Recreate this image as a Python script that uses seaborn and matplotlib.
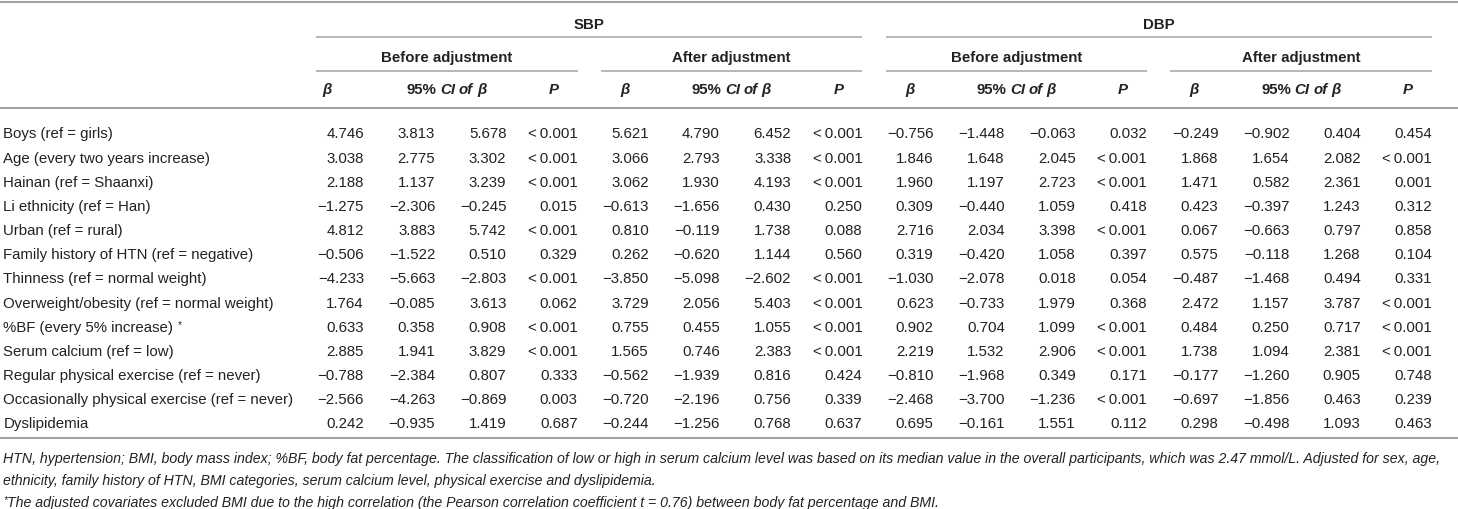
import matplotlib
matplotlib.use("Agg")
import matplotlib.pyplot as plt
import seaborn as sns
import pandas as pd
import numpy as np

# ---------------- data ----------------
row_labels = [
    "Boys (ref = girls)",
    "Age (every two years increase)",
    "Hainan (ref = Shaanxi)",
    "Li ethnicity (ref = Han)",
    "Urban (ref = rural)",
    "Family history of HTN (ref = negative)",
    "Thinness (ref = normal weight)",
    "Overweight/obesity (ref = normal weight)",
    "%BF (every 5% increase)",
    "Serum calcium (ref = low)",
    "Regular physical exercise (ref = never)",
    "Occasionally physical exercise (ref = never)",
    "Dyslipidemia",
]
label_star = [False] * 8 + [True] + [False] * 4

group_names = ["SBP", "DBP"]
subgroup_names = ["Before adjustment", "After adjustment"]

sbp_before_beta = [4.746, 3.038, 2.188, -1.275, 4.812, -0.506, -4.233, 1.764, 0.633, 2.885, -0.788, -2.566, 0.242]
sbp_before_lo = [3.813, 2.775, 1.137, -2.306, 3.883, -1.522, -5.663, -0.085, 0.358, 1.941, -2.384, -4.263, -0.935]
sbp_before_hi = [5.678, 3.302, 3.239, -0.245, 5.742, 0.510, -2.803, 3.613, 0.908, 3.829, 0.807, -0.869, 1.419]
sbp_before_p = ["<0.001", "<0.001", "<0.001", "0.015", "<0.001", "0.329", "<0.001", "0.062", "<0.001", "<0.001", "0.333", "0.003", "0.687"]

sbp_after_beta = [5.621, 3.066, 3.062, -0.613, 0.810, 0.262, -3.850, 3.729, 0.755, 1.565, -0.562, -0.720, -0.244]
sbp_after_lo = [4.790, 2.793, 1.930, -1.656, -0.119, -0.620, -5.098, 2.056, 0.455, 0.746, -1.939, -2.196, -1.256]
sbp_after_hi = [6.452, 3.338, 4.193, 0.430, 1.738, 1.144, -2.602, 5.403, 1.055, 2.383, 0.816, 0.756, 0.768]
sbp_after_p = ["<0.001", "<0.001", "<0.001", "0.250", "0.088", "0.560", "<0.001", "<0.001", "<0.001", "<0.001", "0.424", "0.339", "0.637"]

dbp_before_beta = [-0.756, 1.846, 1.960, 0.309, 2.716, 0.319, -1.030, 0.623, 0.902, 2.219, -0.810, -2.468, 0.695]
dbp_before_lo = [-1.448, 1.648, 1.197, -0.440, 2.034, -0.420, -2.078, -0.733, 0.704, 1.532, -1.968, -3.700, -0.161]
dbp_before_hi = [-0.063, 2.045, 2.723, 1.059, 3.398, 1.058, 0.018, 1.979, 1.099, 2.906, 0.349, -1.236, 1.551]
dbp_before_p = ["0.032", "<0.001", "<0.001", "0.418", "<0.001", "0.397", "0.054", "0.368", "<0.001", "<0.001", "0.171", "<0.001", "0.112"]

dbp_after_beta = [-0.249, 1.868, 1.471, 0.423, 0.067, 0.575, -0.487, 2.472, 0.484, 1.738, -0.177, -0.697, 0.298]
dbp_after_lo = [-0.902, 1.654, 0.582, -0.397, -0.663, -0.118, -1.468, 1.157, 0.250, 1.094, -1.260, -1.856, -0.498]
dbp_after_hi = [0.404, 2.082, 2.361, 1.243, 0.797, 1.268, 0.494, 3.787, 0.717, 2.381, 0.905, 0.463, 1.093]
dbp_after_p = ["0.454", "<0.001", "0.001", "0.312", "0.858", "0.104", "0.331", "<0.001", "<0.001", "<0.001", "0.748", "0.239", "0.463"]

footnote_1 = ("HTN, hypertension; BMI, body mass index; %BF, body fat percentage. The classification of low or high "
              "in serum calcium level was based on its median value in the overall participants, which was 2.47 mmol/L. "
              "Adjusted for sex, age,")
footnote_2 = "ethnicity, family history of HTN, BMI categories, serum calcium level, physical exercise and dyslipidemia."
footnote_3 = ("The adjusted covariates excluded BMI due to the high correlation (the Pearson correlation coefficient "
              "t = 0.76) between body fat percentage and BMI.")

columns = [
    sbp_before_beta, sbp_before_lo, sbp_before_hi, sbp_before_p,
    sbp_after_beta, sbp_after_lo, sbp_after_hi, sbp_after_p,
    dbp_before_beta, dbp_before_lo, dbp_before_hi, dbp_before_p,
    dbp_after_beta, dbp_after_lo, dbp_after_hi, dbp_after_p,
]


def fmt(v):
    if isinstance(v, str):
        return v.replace("<", "<\u2009")
    return f"{v:.3f}".replace("-", "\u2212")


cells = pd.DataFrame(
    [(r, c, fmt(col[r])) for c, col in enumerate(columns) for r in range(len(row_labels))],
    columns=["row", "col", "text"],
)

# ---------------- style ----------------
sns.set_theme(style="white")
plt.rcParams["font.family"] = ["Liberation Sans", "DejaVu Sans"]

W, H, DPI = 1458, 510, 100
fig = plt.figure(figsize=(W / DPI, H / DPI), dpi=DPI)
ax = fig.add_axes([0, 0, 1, 1])
ax.set_xlim(0, W)
ax.set_ylim(H, 0)
ax.axis("off")
renderer = fig.canvas.get_renderer()

TXT = "#222222"
RULE = "#a3a3a3"
FS = 10.8  # points (~15 px)

col_right0, col_step = 364.0, 71.2
row_y0, row_step = 133.0, 24.17
label_x = 3.5


def col_right(k):
    return col_right0 + col_step * k


def base(yc, fs=FS):
    return yc + 0.716 * fs / 72 * DPI / 2.0


def text_w(s, **kw):
    t = ax.text(0, 0, s, **kw)
    w = t.get_window_extent(renderer).width
    t.remove()
    return w


def runs(x, yc, parts, ha="center", fs=FS, gap_scale=1.0):
    """parts: list of (text, kwargs, dy, gap_before)"""
    widths = []
    for s, kw, dy, gap in parts:
        kk = dict(kw)
        kk.setdefault("fontsize", fs)
        widths.append(text_w(s, **kk))
    sp = (fs / 72 * DPI) * 0.278 * gap_scale
    total = sum(widths) + sum(sp for p in parts if p[3])
    cx = x - total / 2 if ha == "center" else x
    for (s, kw, dy, gap), w in zip(parts, widths):
        if gap:
            cx += sp
        kk = dict(kw)
        kk.setdefault("fontsize", fs)
        ax.text(cx, base(yc, fs) + dy, s, ha="left", va="baseline", color=TXT, **kk)
        cx += w


# ---------------- rules ----------------
ax.hlines([3, 109, 439], 0, W, color=RULE, lw=1.5)
for g in range(2):
    x0 = col_right(8 * g) - 48
    x1 = col_right(8 * g + 7)
    ax.hlines(38, x0, x1, color=RULE, lw=1.1)
    ax.text((x0 + x1) / 2, base(24), group_names[g], ha="center", va="baseline",
            fontsize=FS, fontweight="bold", color=TXT)
    for s in range(2):
        k0 = 8 * g + 4 * s
        sx0 = col_right(k0) - 48
        sx1 = col_right(k0 + 3)
        ax.hlines(72, sx0, sx1, color=RULE, lw=1.1)
        ax.text((sx0 + sx1) / 2, base(57), subgroup_names[s], ha="center", va="baseline",
                fontsize=FS, fontweight="bold", color=TXT)
        # column headers
        bx = col_right(k0) - (37 if k0 == 0 else 24)
        ax.text(bx, base(89), "\u03b2", ha="center", va="baseline", fontsize=FS,
                fontweight="bold", fontstyle="italic", color=TXT)
        runs(col_right(k0 + 2) - 60, 89, [
            ("95%", dict(fontweight="bold"), 0, False),
            ("CI", dict(fontweight="bold", fontstyle="italic"), 0, True),
            ("of", dict(fontweight="bold", fontstyle="italic"), 0, True),
            ("\u03b2", dict(fontweight="bold", fontstyle="italic"), 0, True),
        ], gap_scale=0.9)
        ax.text(col_right(k0 + 3) - 24, base(89), "P", ha="center", va="baseline", fontsize=FS,
                fontweight="bold", fontstyle="italic", color=TXT)

# ---------------- row labels ----------------
for r, lab in enumerate(row_labels):
    yc = row_y0 + row_step * r
    if label_star[r]:
        runs(label_x, yc, [
            (lab, dict(), 0, False),
            ("*", dict(fontsize=FS * 0.7), -4, True),
        ], ha="left")
    else:
        ax.text(label_x, base(yc), lab, ha="left", va="baseline", fontsize=FS, color=TXT)

# ---------------- cells ----------------
for row in cells.itertuples():
    ax.text(col_right(row.col), base(row_y0 + row_step * row.row), row.text,
            ha="right", va="baseline", fontsize=FS, color=TXT)

# ---------------- footnotes ----------------
fs0 = 10.0
w0 = text_w(footnote_1, fontsize=fs0, fontstyle="italic")
ffs = fs0 * 1447.0 / w0
ax.text(3, base(458, ffs), footnote_1, ha="left", va="baseline", fontsize=ffs, fontstyle="italic", color=TXT)
ax.text(3, base(480, ffs), footnote_2, ha="left", va="baseline", fontsize=ffs, fontstyle="italic", color=TXT)
star_w = text_w("*", fontsize=ffs * 0.7, fontstyle="italic")
ax.text(3, base(502, ffs) - 4, "*", ha="left", va="baseline", fontsize=ffs * 0.7, fontstyle="italic", color=TXT)
ax.text(3 + star_w + 0.5, base(502, ffs), footnote_3, ha="left", va="baseline", fontsize=ffs,
        fontstyle="italic", color=TXT)

fig.savefig("out.png", dpi=DPI, facecolor="white")
